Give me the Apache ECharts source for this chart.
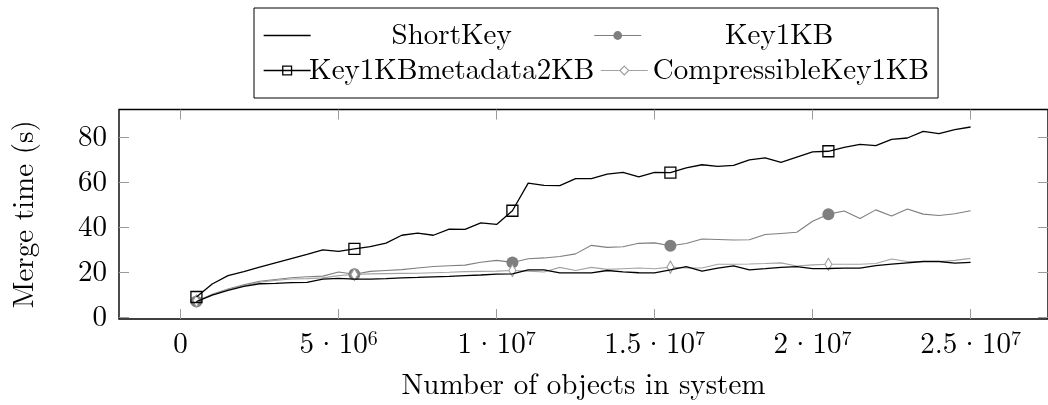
<!DOCTYPE html>
<html>
<head>
<meta charset="utf-8">
<script src="https://cdn.jsdelivr.net/npm/echarts@6/dist/echarts.min.js"></script>
<style>
  html, body { margin: 0; padding: 0; background: #fff; }
  #chart { width: 1048px; height: 405px; }
</style>
</head>
<body>
<div id="chart"></div>
<script>
// Number of objects in the system, in millions
const objectsMillions = [
  0.5, 1, 1.5, 2, 2.5, 3, 3.5, 4, 4.5, 5,
  5.5, 6, 6.5, 7, 7.5, 8, 8.5, 9, 9.5, 10,
  10.5, 11, 11.5, 12, 12.5, 13, 13.5, 14, 14.5, 15,
  15.5, 16, 16.5, 17, 17.5, 18, 18.5, 19, 19.5, 20,
  20.5, 21, 21.5, 22, 22.5, 23, 23.5, 24, 24.5, 25
];

// Merge time in seconds for each key type
const shortKey = [
  6.9, 9.8, 11.9, 13.7, 14.9, 15.1, 15.4, 15.5, 17.0, 17.3,
  17.0, 17.0, 17.2, 17.5, 17.7, 18.0, 18.2, 18.5, 18.8, 19.2,
  19.3, 21.1, 21.1, 19.7, 19.7, 19.7, 20.8, 20.2, 19.8, 19.7,
  21.1, 22.5, 20.5, 21.9, 22.9, 21.1, 21.6, 22.2, 22.5, 21.6,
  21.7, 21.9, 21.9, 23.0, 23.6, 24.2, 24.8, 24.8, 24.1, 24.4
];
const key1KB = [
  7.0, 10.2, 12.6, 14.4, 16.0, 16.8, 17.6, 18.0, 18.3, 20.1,
  19.1, 20.4, 20.8, 21.2, 21.9, 22.6, 22.9, 23.2, 24.5, 25.3,
  24.4, 26.0, 26.4, 27.0, 28.2, 32.0, 31.1, 31.4, 32.9, 33.1,
  31.8, 32.8, 34.8, 34.6, 34.4, 34.5, 36.8, 37.3, 37.8, 42.7,
  45.9, 47.3, 44.0, 47.8, 45.1, 48.2, 45.9, 45.3, 46.1, 47.4
];
const key1KBmetadata2KB = [
  9.0, 14.8, 18.5, 20.3, 22.3, 24.2, 26.1, 28.0, 30.0, 29.3,
  30.4, 31.4, 33.0, 36.5, 37.4, 36.5, 39.2, 39.1, 42.0, 41.3,
  47.4, 59.7, 58.7, 58.6, 61.7, 61.7, 63.7, 64.5, 62.5, 64.5,
  64.4, 66.5, 67.9, 67.2, 67.6, 70.1, 71.0, 69.0, 71.3, 73.6,
  73.9, 75.6, 77.0, 76.4, 79.2, 79.8, 82.8, 81.8, 83.5, 84.7
];
const compressibleKey1KB = [
  7.2, 10.0, 12.3, 14.0, 15.6, 16.4, 17.0, 17.2, 17.5, 18.5,
  19.0, 19.3, 19.4, 19.5, 19.6, 19.8, 20.0, 20.3, 20.4, 20.5,
  20.8, 20.5, 20.1, 22.2, 20.8, 22.2, 21.3, 21.6, 21.9, 21.6,
  22.3, 21.9, 21.9, 23.6, 23.6, 23.7, 23.9, 24.2, 22.8, 23.3,
  23.6, 23.6, 23.6, 23.9, 25.9, 24.8, 24.8, 24.8, 25.3, 26.2
];

const seriesNames = ['ShortKey', 'Key1KB', 'Key1KBmetadata2KB', 'CompressibleKey1KB'];

// Axis ticks and their labels (mantissa · 10^exponent)
const xTickValues = [0, 5e6, 1e7, 1.5e7, 2e7, 2.5e7];
const xTickMantissa = ['0', '5', '1', '1.5', '2', '2.5'];
const xTickExponent = ['', '6', '7', '7', '7', '7'];
const yTickValues = [0, 20, 40, 60, 80];

const FONT = '"Latin Modern Roman", "Liberation Serif", serif';
const FS = 29;
const MARK_EVERY = 10;

function toPoints(values) {
  return values.map((v, i) => {
    const item = { value: [objectsMillions[i] * 1e6, v] };
    if (i % MARK_EVERY !== 0) item.symbol = 'none';
    return item;
  });
}

const styles = {
  ShortKey: {
    symbol: 'none', size: 0,
    item: { color: '#000', borderWidth: 0 },
    line: { color: '#000', width: 1.3 }
  },
  Key1KB: {
    symbol: 'circle', size: 12,
    item: { color: '#7f7f7f', borderWidth: 0 },
    line: { color: '#7f7f7f', width: 1.1 }
  },
  Key1KBmetadata2KB: {
    symbol: 'rect', size: 11,
    item: { color: 'rgba(0,0,0,0)', borderColor: '#000', borderWidth: 1.3 },
    line: { color: '#000', width: 1.3 }
  },
  CompressibleKey1KB: {
    symbol: 'diamond', size: [7, 12],
    item: { color: '#fff', borderColor: '#9c9c9c', borderWidth: 1.1 },
    line: { color: '#a3a3a3', width: 1.1 }
  }
};

const seriesValues = {
  ShortKey: shortKey,
  Key1KB: key1KB,
  Key1KBmetadata2KB: key1KBmetadata2KB,
  CompressibleKey1KB: compressibleKey1KB
};

// Legend text cell style per entry
const legendCell = {
  ShortKey: 'c1',
  Key1KBmetadata2KB: 'c1',
  Key1KB: 'c2',
  CompressibleKey1KB: 'c3'
};

const series = seriesNames.map(name => {
  const s = styles[name];
  return {
    name,
    type: 'line',
    xAxisIndex: 0,
    yAxisIndex: 0,
    data: toPoints(seriesValues[name]),
    symbol: s.symbol,
    symbolSize: s.size,
    showSymbol: s.symbol !== 'none',
    showAllSymbol: true,
    itemStyle: s.item,
    lineStyle: s.line,
    emphasis: { disabled: true },
    z: name === 'Key1KBmetadata2KB' || name === 'ShortKey' ? 3 : 2
  };
});

const X_MIN = -1.95e6, X_MAX = 2.745e7;
const Y_MIN = -0.8, Y_MAX = 92.5;

const tickStyle = { show: true, inside: true, length: 10, lineStyle: { color: '#9a9a9a', width: 1 } };
const hiddenLine = { show: false, onZero: false };
const textBase = { fontFamily: FONT, fontSize: FS, color: '#000', lineHeight: 24 };

const chart = echarts.init(document.getElementById('chart'), null, { renderer: 'canvas' });
chart.setOption({
  animation: false,
  backgroundColor: '#fff',
  grid: {
    left: 119, top: 109.5, right: -7, bottom: 75.5,
    show: true, borderColor: '#000', borderWidth: 1.4, containLabel: false
  },
  legend: {
    left: 254, top: 8,
    width: 760,
    orient: 'horizontal',
    padding: [13, 9, 13, 9],
    itemGap: 6,
    itemWidth: 47,
    itemHeight: 11,
    borderColor: '#000',
    borderWidth: 1,
    borderRadius: 0,
    selectedMode: false,
    data: seriesNames.map(name => {
      const s = styles[name];
      return {
        name,
        itemStyle: Object.assign({}, s.item, { opacity: name === 'ShortKey' ? 0 : 1 }),
        lineStyle: { color: s.line.color, width: s.line.width }
      };
    }),
    formatter: name => '{' + legendCell[name] + '|' + name + '}',
    textStyle: {
      fontFamily: FONT, fontSize: FS, color: '#000',
      rich: {
        c1: Object.assign({ width: 272, align: 'center' }, textBase),
        c2: Object.assign({ width: 266, align: 'center' }, textBase),
        c3: Object.assign({}, textBase)
      }
    }
  },
  xAxis: [
    {
      type: 'value', min: X_MIN, max: X_MAX, position: 'bottom',
      name: 'Number of objects in system',
      nameLocation: 'middle', nameGap: 52,
      nameTextStyle: { fontFamily: FONT, fontSize: FS, color: '#000' },
      axisLine: hiddenLine,
      splitLine: { show: false },
      axisTick: Object.assign({ customValues: xTickValues }, tickStyle),
      axisLabel: {
        customValues: xTickValues,
        margin: 10,
        fontFamily: FONT, fontSize: FS, color: '#000',
        formatter: v => {
          const i = xTickValues.indexOf(v);
          if (i < 0) return '';
          return xTickExponent[i]
            ? '{m|' + xTickMantissa[i] + '}{d|·}{m|10}{e|' + xTickExponent[i] + '}'
            : '{m|' + xTickMantissa[i] + '}';
        },
        rich: {
          m: { fontFamily: FONT, fontSize: FS, color: '#000', lineHeight: 30, verticalAlign: 'bottom' },
          d: { fontFamily: FONT, fontSize: FS, color: '#000', lineHeight: 30, verticalAlign: 'bottom', padding: [0, 1, 0, 1] },
          e: { fontFamily: FONT, fontSize: 20, color: '#000', lineHeight: 30, verticalAlign: 'top' }
        }
      }
    },
    {
      type: 'value', min: X_MIN, max: X_MAX, position: 'top',
      axisLine: hiddenLine,
      splitLine: { show: false },
      axisLabel: { show: false },
      axisTick: Object.assign({ customValues: xTickValues }, tickStyle)
    }
  ],
  yAxis: [
    {
      type: 'value', min: Y_MIN, max: Y_MAX, position: 'left',
      name: 'Merge time (s)',
      nameLocation: 'middle', nameGap: 80, nameRotate: 90,
      nameTextStyle: { fontFamily: FONT, fontSize: FS, color: '#000' },
      axisLine: hiddenLine,
      splitLine: { show: false },
      axisTick: Object.assign({ customValues: yTickValues }, tickStyle),
      axisLabel: {
        customValues: yTickValues,
        margin: 12,
        fontFamily: FONT, fontSize: FS, color: '#000'
      }
    },
    {
      type: 'value', min: Y_MIN, max: Y_MAX, position: 'right',
      axisLine: hiddenLine,
      splitLine: { show: false },
      axisLabel: { show: false },
      axisTick: Object.assign({ customValues: yTickValues }, tickStyle)
    }
  ],
  series
});
</script>
</body>
</html>
